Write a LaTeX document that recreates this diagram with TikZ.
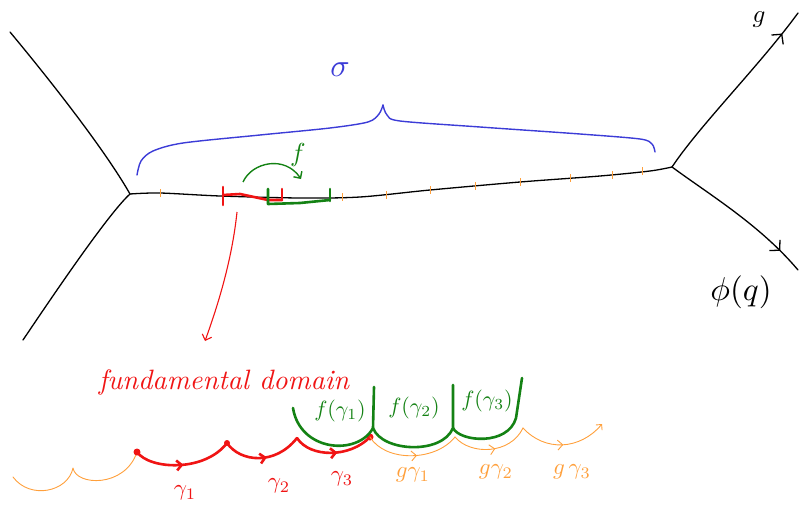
\documentclass[tikz,border=0pt]{standalone}
\usetikzlibrary{arrows.meta,decorations.markings}
\definecolor{pred}{RGB}{240,20,20}
\definecolor{pgreen}{RGB}{20,130,20}
\definecolor{pblue}{RGB}{60,60,215}
\definecolor{porange}{RGB}{255,160,60}
\begin{document}
\begin{tikzpicture}[x=1pt,y=-1pt,
  blk/.style={line width=1.3pt,line cap=round,line join=round},
  redthick/.style={pred,line width=2.6pt,line cap=round,line join=round},
  greenthick/.style={pgreen,line width=2.6pt,line cap=round,line join=round},
  orangethin/.style={porange,line width=0.9pt,line cap=round,line join=round},
  bluebrace/.style={pblue,line width=1.4pt,line cap=round,line join=round},
  tickmark/.style={porange,line width=0.9pt},
  barb/.style={-{Straight Barb[length=5pt,width=10pt]}},
  midarrow/.style={postaction={decorate},decoration={markings,mark=at position #1 with {\arrow{Straight Barb[length=5pt,width=10pt]}}}},
  midarrow/.default=0.5,
  bigmidarrow/.style={postaction={decorate},decoration={markings,mark=at position #1 with {\arrow{Straight Barb[length=7pt,width=15pt]}}}},
  lbl/.style={inner sep=0pt,transform shape}
]
\useasboundingbox (0,0) rectangle (799,511);
% vertices and ends
\coordinate (vl) at (130,194);
\coordinate (vr) at (672,167);
\coordinate (la) at (10,32);
\coordinate (lb) at (23,340);
\coordinate (ra) at (798,13);
\coordinate (rb) at (798,270);
% black tree
\draw[blk] (la) .. controls (50,80) and (105,150) .. (vl);
\draw[blk] (vl) .. controls (110,212) and (60,285) .. (lb);
\draw[blk] plot[smooth] coordinates {(130,194) (160,193) (220,196) (300,198) (360,197) (430,190) (520,182) (600,176) (650,171) (672,167)};
\draw[blk,bigmidarrow=0.87] (vr) .. controls (700,125) and (760,65) .. (ra);
\draw[blk,bigmidarrow=0.84] (vr) .. controls (710,195) and (760,225) .. (rb);
\node[lbl,scale=2.5] (glab) at (759,20) {$g$};
\node[lbl,scale=3.3] (phlab) at (741,292) {$\phi(q)$};
% orange ticks
\foreach \x/\y in {160/193, 342/197, 386/195, 430/190, 475/186, 520/182, 570/178, 612/175, 642/171}
  \draw[tickmark] (\x,\y-4) -- (\x,\y+4);
% blue brace
\draw[bluebrace] plot[smooth] coordinates {(137,175) (141,161) (153,151) (183,143) (260,135) (330,128) (368,122) (379,114) (383,105)};
\draw[bluebrace] plot[smooth] coordinates {(383,105) (387,115) (400,121) (480,127) (580,134) (640,139) (652,144) (655,152)};
\node[lbl,scale=3.2,text=pblue] (sig) at (340,70) {$\sigma$};
% red and green segments on the edge
\draw[redthick] (223,187) -- (223,205);
\draw[redthick] (223,195) -- (240,194) -- (268,200) -- (282,200);
\draw[redthick] (282,189) -- (282,200);
\draw[greenthick] (268,189) -- (268,204) -- (300,203) -- (330,200);
\draw[greenthick] (330,189) -- (330,201);
% f arrow
\coordinate (fs) at (243,182);
\coordinate (fe) at (301,179);
\draw[pgreen,line width=1.4pt,barb] (fs) .. controls (252,162) and (285,155) .. (fe);
\node[lbl,scale=2.6,text=pgreen] (flab) at (298,155) {$f$};
% red arrow down
\coordinate (ds) at (237,212);
\coordinate (de) at (205,341);
\draw[pred,line width=1.1pt,barb] (ds) .. controls (232,260) and (218,305) .. (de);
\node[lbl,scale=2.8,text=pred] (fd) at (224,382) {\itshape fundamental domain};
% bottom chain
\coordinate (o0) at (13,477);
\coordinate (c0) at (73,468);
\coordinate (r0) at (137,452);
\coordinate (r1) at (227,443);
\coordinate (r2) at (297,438);
\coordinate (r3) at (370,437);
\coordinate (q1) at (455,437);
\coordinate (q2) at (523,428);
\coordinate (q3) at (602,424);
\draw[orangethin] (o0) .. controls (30,500) and (68,492) .. (c0) .. controls (76,486) and (125,488) .. (r0);
\draw[redthick,midarrow=0.5] (r0) .. controls (150,470) and (205,472) .. (r1);
\draw[redthick,midarrow=0.55] (r1) .. controls (240,462) and (275,466) .. (r2);
\draw[redthick,midarrow=0.55] (r2) .. controls (310,458) and (350,458) .. (r3);
\fill[pred] (r0) circle (3.5pt) (r1) circle (3pt) (r3) circle (3.5pt);
\draw[orangethin,midarrow=0.55] (r3) .. controls (385,462) and (435,462) .. (q1);
\draw[orangethin,midarrow=0.55] (q1) .. controls (470,455) and (510,455) .. (q2);
\draw[orangethin,midarrow=0.5,-{Straight Barb[length=4pt,width=8pt]}] (q2) .. controls (545,452) and (580,450) .. (q3);
% green lifts
\coordinate (g0) at (293,408);
\coordinate (j1) at (373,428);
\coordinate (t1) at (374,387);
\coordinate (j2) at (453,428);
\coordinate (t2) at (453,385);
\coordinate (t3) at (522,378);
\draw[greenthick] (g0) .. controls (300,452) and (358,456) .. (j1) -- (t1);
\draw[greenthick] (j1) .. controls (382,452) and (442,455) .. (j2) -- (t2);
\draw[greenthick] (j2) .. controls (460,442) and (508,446) .. (516,418) -- (t3);
% labels
\node[lbl,scale=2.3,text=pred] (ga1) at (185,493) {$\gamma_1$};
\node[lbl,scale=2.3,text=pred] (ga2) at (279,486) {$\gamma_2$};
\node[lbl,scale=2.3,text=pred] (ga3) at (342,479) {$\gamma_3$};
\node[lbl,scale=2.2,text=pgreen] (fg1) at (340,411) {$f(\gamma_1)$};
\node[lbl,scale=2.2,text=pgreen] (fg2) at (414,408) {$f(\gamma_2)$};
\node[lbl,scale=2.2,text=pgreen] (fg3) at (487,401) {$f(\gamma_3)$};
\node[lbl,scale=2.3,text=porange] (gg1) at (413,475) {$g\gamma_1$};
\node[lbl,scale=2.3,text=porange] (gg2) at (496,472) {$g\gamma_2$};
\node[lbl,scale=2.3,text=porange] (gg3) at (572,472) {$g\,\gamma_3$};
\end{tikzpicture}
\end{document}
